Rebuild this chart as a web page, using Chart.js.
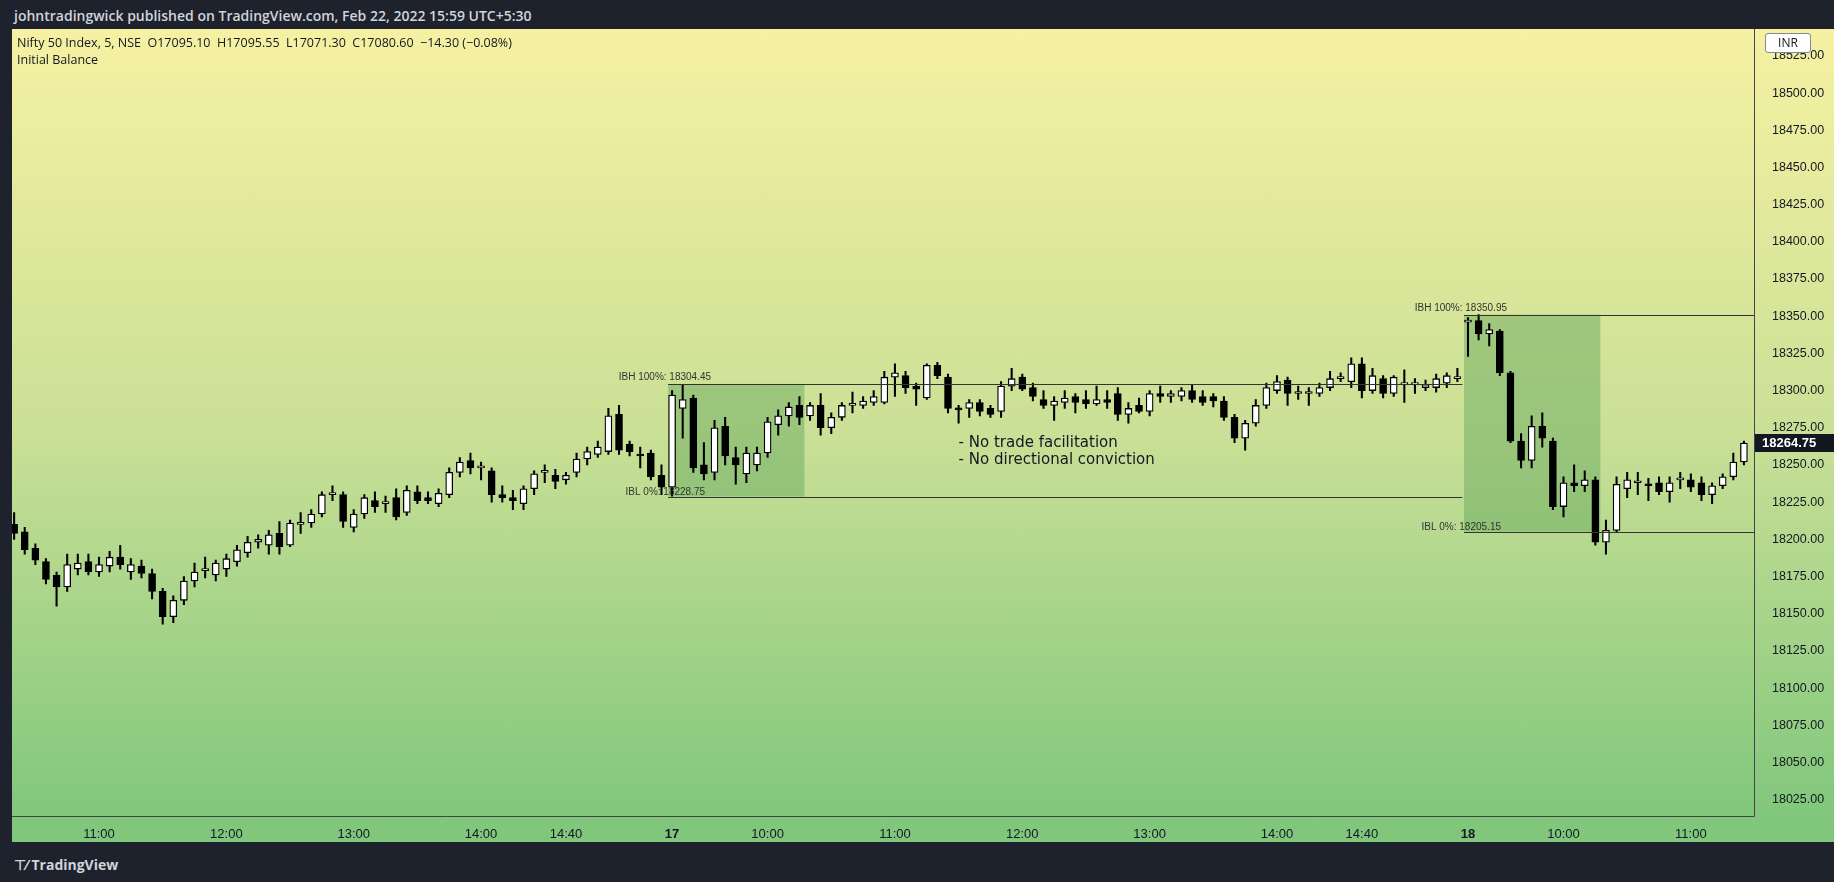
<!DOCTYPE html>
<html><head><meta charset="utf-8">
<script src="https://cdn.jsdelivr.net/npm/chart.js@4/dist/chart.umd.min.js"></script>
<style>
html,body{margin:0;padding:0;width:1834px;height:882px;background:#1e222d;overflow:hidden;font-family:"Open Sans","Liberation Sans",sans-serif;}
#top{position:absolute;left:14px;top:6px;color:#d1d4dc;font-size:14px;font-weight:600;}
#bg{position:absolute;left:12px;top:29px;width:1822px;height:813px;background:linear-gradient(to bottom,#f6f1a2 0%,#c9e096 50%,#80c77c 97%,#80c77c 100%);}
#cv{position:absolute;left:12px;top:29px;width:1822px;height:813px;}
#hdr{position:absolute;left:17px;top:34px;color:#131722;font-size:12.5px;line-height:17px;}
#foot{position:absolute;left:14px;top:855px;color:#d1d4dc;font-size:14px;font-weight:700;}
#inr{position:absolute;left:1765px;top:33px;width:44px;height:18px;border:1px solid #888;border-radius:3px;background:#fff;color:#131722;font-size:12px;text-align:center;line-height:18px;}
</style></head><body>
<div id="top">johntradingwick published on TradingView.com, Feb 22, 2022 15:59 UTC+5:30</div>
<div id="bg"></div>
<div id="cv"><canvas id="c" width="1822" height="813"></canvas></div>
<div id="hdr">Nifty 50 Index, 5, NSE&nbsp; O17095.10&nbsp; H17095.55&nbsp; L17071.30&nbsp; C17080.60&nbsp; −14.30 (−0.08%)<br>Initial Balance</div>
<div id="inr">INR</div>
<div id="foot">⊤⁄ TradingView</div>
<script>
const opens=[18210,18205,18194,18185,18176,18168,18180,18185,18178,18182,18188,18178,18182,18177,18165,18148,18159,18172,18179,18176,18180,18185,18191,18198,18196,18204,18196,18210,18211,18217,18230,18230,18208,18217,18226,18224,18228,18218,18232,18228,18224,18230,18245,18253,18248,18246,18230,18228,18224,18234,18245,18243,18240,18245,18254,18257,18259,18284,18264,18257,18258,18243,
18235,18288,18295,18250,18245,18276,18255,18244,18250,18258,18277,18283,18290,18283,18290,18275,18282,18290,18290,18292,18292,18309,18310,18303,18295,18317,18309,18288,18288,18292,18288,18286,18303,18309,18302,18294,18290,18292,18296,18294,18291,18294,18298,18284,18290,18286,18298,18296,18296,18300,18296,18296,18293,18282,18268,18278,18290,18300,18307,18298,18298,18298,18302,18308,18306,18318,18300,18308,18298,18304,18304,18302,18302,18305,18308,
18346,18347,18338,18340,18312,18266,18253,18276,18266,18222,18238,18236,18240,18198,18206,18234,18238,18237,18238,18232,18240,18240,18238,18230,18236,18242,18252];
const highs=[18218,18208,18197,18187,18178,18190,18190,18190,18188,18192,18196,18187,18186,18180,18167,18162,18175,18184,18188,18186,18190,18196,18202,18203,18206,18212,18213,18218,18220,18232,18236,18232,18220,18230,18232,18229,18234,18236,18236,18232,18234,18248,18255,18258,18252,18248,18236,18233,18236,18246,18250,18247,18245,18258,18262,18266,18288,18290,18266,18262,18260,18250,
18300,18304,18297,18265,18280,18282,18262,18262,18262,18282,18287,18292,18296,18292,18298,18285,18292,18299,18296,18300,18313,18318,18313,18305,18318,18319,18311,18290,18294,18294,18290,18306,18315,18311,18305,18300,18296,18300,18298,18300,18303,18300,18302,18292,18295,18300,18303,18300,18302,18304,18300,18298,18296,18284,18280,18294,18305,18310,18309,18303,18302,18305,18313,18312,18322,18322,18315,18310,18310,18314,18308,18307,18311,18312,18315,
18349,18351,18345,18341,18313,18271,18283,18285,18268,18242,18250,18246,18242,18213,18242,18245,18245,18241,18242,18242,18245,18244,18242,18238,18244,18258,18266];
const lows=[18200,18190,18183,18170,18155,18165,18176,18176,18175,18178,18180,18173,18174,18160,18143,18144,18156,18168,18174,18172,18175,18182,18188,18194,18190,18190,18195,18204,18208,18215,18226,18208,18205,18214,18218,18218,18213,18216,18224,18224,18222,18228,18242,18244,18240,18225,18225,18220,18220,18230,18238,18234,18237,18242,18250,18255,18257,18257,18256,18248,18240,18230,
18229,18268,18245,18240,18240,18250,18237,18238,18246,18255,18270,18276,18277,18280,18270,18271,18280,18285,18288,18290,18291,18296,18298,18290,18294,18308,18285,18278,18282,18283,18282,18282,18300,18300,18293,18288,18280,18288,18285,18288,18290,18288,18280,18278,18285,18283,18292,18292,18293,18292,18290,18289,18280,18265,18260,18276,18288,18298,18290,18294,18290,18296,18300,18306,18302,18295,18298,18295,18296,18292,18298,18300,18299,18302,18306,
18323,18334,18330,18310,18265,18248,18248,18262,18220,18215,18232,18232,18196,18190,18205,18228,18230,18226,18230,18225,18234,18232,18226,18224,18234,18240,18250];
const closes=[18204,18193,18186,18173,18168,18183,18184,18178,18183,18188,18183,18183,18177,18165,18148,18159,18172,18178,18180,18184,18187,18193,18198,18200,18203,18195,18211,18211,18217,18230,18231,18212,18217,18228,18222,18224,18215,18233,18226,18226,18231,18245,18252,18248,18248,18230,18228,18226,18234,18244,18245,18239,18243,18254,18259,18262,18283,18260,18259,18256,18242,18235,
18297,18294,18248,18244,18275,18256,18250,18258,18258,18279,18283,18289,18282,18290,18275,18282,18290,18291,18293,18296,18309,18312,18302,18301,18317,18310,18288,18287,18292,18286,18284,18303,18308,18301,18296,18290,18293,18295,18292,18291,18294,18292,18284,18288,18286,18298,18296,18298,18300,18294,18292,18293,18282,18268,18278,18290,18302,18306,18298,18299,18298,18302,18308,18309,18318,18300,18310,18298,18309,18305,18304,18304,18308,18310,18309,
18347,18338,18341,18312,18266,18253,18276,18268,18222,18238,18236,18240,18198,18206,18237,18240,18238,18236,18232,18238,18241,18235,18230,18236,18242,18252,18264.75];
const tickIdx=[8,20,32,44,52,62,71,83,95,107,119,127,137,146,158];
const tickLbl=["11:00","12:00","13:00","14:00","14:40","17","10:00","11:00","12:00","13:00","14:00","14:40","18","10:00","11:00"];
const priceTicks=[18025,18050,18075,18100,18125,18150,18175,18200,18225,18250,18275,18300,18325,18350,18375,18400,18425,18450,18475,18500,18525];
const ib=[{from:62,to:74,end:136,ibh:18304.45,ibl:18228.75},{from:137,to:149,end:164,ibh:18350.95,ibl:18205.15}];
const notes=["- No trade facilitation","- No directional conviction"];
const lastPrice=18264.75;

const bodies=opens.map((o,i)=>({x:i,y:[Math.min(o,closes[i]),Math.max(o,closes[i])]}));
const wicks=lows.map((l,i)=>({x:i,y:[l,highs[i]]}));
const bodyColors=opens.map((o,i)=>closes[i]>=o?'#ffffff':'#000000');

const overlay={id:'overlay',
 beforeDatasetsDraw(ch){const {ctx,scales:{x,y}}=ch;ctx.save();
  ib.forEach(b=>{const x0=x.getPixelForValue(b.from)-4,x1=x.getPixelForValue(b.to)+5;
   ctx.fillStyle='rgba(95,165,90,0.45)';ctx.fillRect(x0,y.getPixelForValue(b.ibh),x1-x0,y.getPixelForValue(b.ibl)-y.getPixelForValue(b.ibh));});
  ctx.restore();},
 afterDatasetsDraw(ch){const {ctx,scales:{x,y},chartArea:ca}=ch;ctx.save();
  ctx.strokeStyle='#333';ctx.lineWidth=1.2;ctx.fillStyle='#333';ctx.font='10px "Liberation Sans",sans-serif';
  ib.forEach(b=>{const x0=x.getPixelForValue(b.from)-4;const x1=Math.min(x.getPixelForValue(b.end)+5,ca.right);
   [b.ibh,b.ibl].forEach(v=>{const yy=Math.round(y.getPixelForValue(v))+0.5;ctx.beginPath();ctx.moveTo(x0,yy);ctx.lineTo(x1,yy);ctx.stroke();});
   ctx.textAlign='right';ctx.textBaseline='bottom';
   ctx.fillText('IBH 100%: '+b.ibh.toFixed(2),x0+43,y.getPixelForValue(b.ibh)-2);
   ctx.fillText('IBL 0%: '+b.ibl.toFixed(2),x0+37,y.getPixelForValue(b.ibl)+1);});
  ctx.font='15px "DejaVu Sans",sans-serif';ctx.fillStyle='#131722';ctx.textAlign='left';ctx.textBaseline='middle';
  notes.forEach((t,k)=>ctx.fillText(t,x.getPixelForValue(89),y.getPixelForValue(18264.5-k*11)));
  ctx.strokeStyle='#444';ctx.lineWidth=1;ctx.beginPath();ctx.moveTo(ca.left,ca.bottom+0.5);ctx.lineTo(ca.right+0.5,ca.bottom+0.5);ctx.lineTo(ca.right+0.5,0);ctx.stroke();
  const yl=y.getPixelForValue(lastPrice);ctx.fillStyle='#131722';ctx.fillRect(ca.right+1,yl-9,80,18);
  ctx.fillStyle='#fff';ctx.font='bold 13px "Liberation Sans",sans-serif';ctx.textAlign='left';ctx.fillText(lastPrice.toFixed(2),ca.right+8,yl);
  ctx.restore();}};

new Chart(document.getElementById('c'),{type:'bar',
 data:{datasets:[
  {data:bodies,backgroundColor:bodyColors,borderColor:'#000',borderWidth:1.3,borderSkipped:false,barThickness:7,minBarLength:2,grouped:false},
  {data:wicks,backgroundColor:'#000',borderWidth:0,barThickness:1.4,grouped:false}]},
 options:{responsive:false,animation:false,
  layout:{padding:{left:0,top:-9,right:0,bottom:0}},
  plugins:{legend:{display:false},tooltip:{enabled:false}},
  scales:{
   x:{type:'linear',offset:false,min:-0.2,max:163.95,grid:{display:false,offset:false},border:{display:false},
     afterBuildTicks(s){s.ticks=tickIdx.map(v=>({value:v}));},
     afterFit(s){s.height=26;},
     ticks:{autoSkip:false,maxRotation:0,color:'#131722',font:(c)=>({size:13,family:'"Liberation Sans",sans-serif',weight:(c.tick&&(c.tick.value===62||c.tick.value===137))?'bold':'normal'}),
       callback:(v)=>{const k=tickIdx.indexOf(v);return k>=0?tickLbl[k]:'';}}},
   y:{position:'right',min:18014,max:18531.3,grid:{display:false},border:{display:false},
     afterBuildTicks(s){s.ticks=priceTicks.map(v=>({value:v}));},
     afterFit(s){s.width=80;},
     ticks:{color:'#131722',padding:10,font:{size:12.5,family:'"Liberation Sans",sans-serif'},callback:v=>Number(v).toFixed(2)}}}},
 plugins:[overlay]});
</script></body></html>
